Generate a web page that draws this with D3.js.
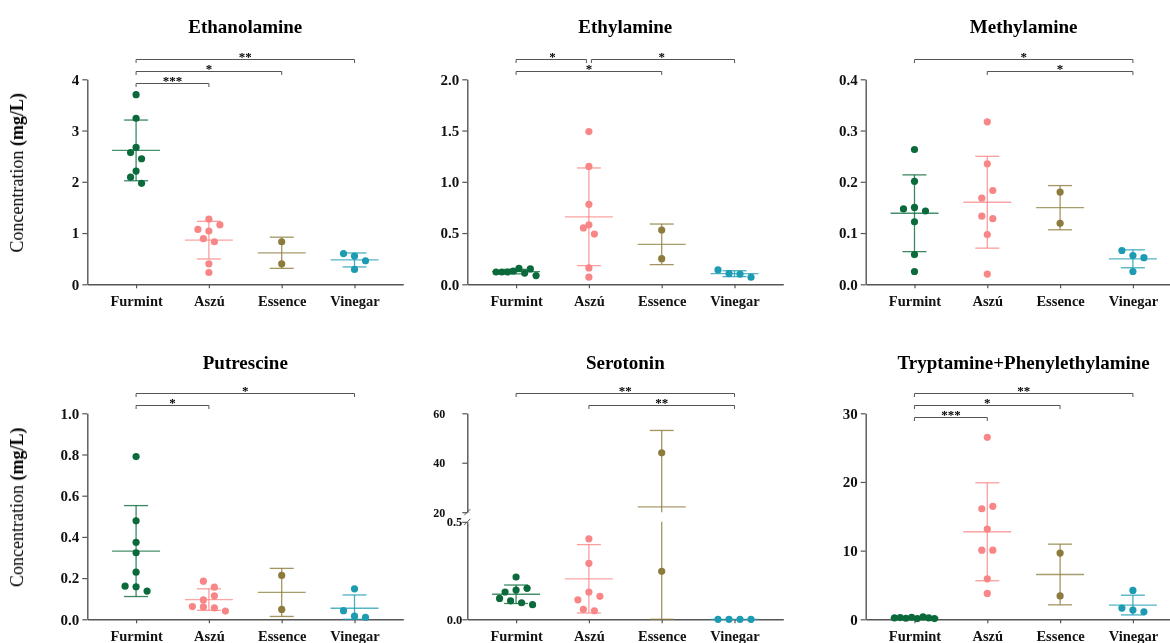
<!DOCTYPE html>
<html>
<head>
<meta charset="utf-8">
<script src="https://cdn.jsdelivr.net/npm/d3@7"></script>
<style>
  body { margin: 0; background: #fff; }
  svg { display: block; }
  text { font-family: "Liberation Serif", "Times New Roman", serif; }
  .mono { filter: url(#grey); }
</style>
</head>
<body>
<svg id="chart" width="1170" height="643">
  <defs>
    <filter id="grey" x="-20%" y="-50%" width="140%" height="200%">
      <feColorMatrix type="saturate" values="0"/>
    </filter>
  </defs>
</svg>
<script>
// ---- data (mg/L), one array per sample group, in category order ----
const categories = ["Furmint", "Aszú", "Essence", "Vinegar"];
const groupColors = ["#0b6a3c", "#f98686", "#8c7b3c", "#1d9bb3"];

const ethanolamine = [
  [3.70, 3.24, 2.67, 2.57, 2.45, 2.21, 2.09, 1.97],
  [1.27, 1.07, 1.04, 1.16, 0.89, 0.83, 0.40, 0.23],
  [0.83, 0.40],
  [0.60, 0.55, 0.46, 0.29]
];
const ethylamine = [
  [0.12, 0.12, 0.12, 0.13, 0.155, 0.11, 0.15, 0.085],
  [1.49, 1.15, 0.78, 0.58, 0.55, 0.49, 0.16, 0.07],
  [0.53, 0.25],
  [0.14, 0.105, 0.10, 0.07]
];
const methylamine = [
  [0.263, 0.201, 0.147, 0.150, 0.143, 0.122, 0.058, 0.025],
  [0.317, 0.235, 0.168, 0.183, 0.133, 0.128, 0.097, 0.020],
  [0.180, 0.119],
  [0.066, 0.056, 0.052, 0.025]
];
const putrescine = [
  [0.79, 0.478, 0.374, 0.323, 0.229, 0.161, 0.158, 0.137],
  [0.185, 0.156, 0.094, 0.114, 0.062, 0.060, 0.055, 0.040],
  [0.213, 0.048],
  [0.148, 0.042, 0.015, 0.010]
];
const serotonin = [
  [0.217, 0.140, 0.150, 0.159, 0.107, 0.095, 0.085, 0.075],
  [0.51, 0.413, 0.287, 0.100, 0.140, 0.118, 0.051, 0.044],
  [44.0, 0.246],
  [0, 0, 0, 0]
];
const tryptaminePhenylethylamine = [
  [0.2, 0.25, 0.15, 0.3, 0.1, 0.35, 0.2, 0.1],
  [26.5, 16.1, 16.45, 13.15, 10.06, 10.06, 5.9, 3.77],
  [9.65, 3.4],
  [4.2, 1.64, 1.35, 1.1]
];

// y-axis tick values
const ethanolamineTicks = [0, 1, 2, 3, 4];
const ethylamineTicks = [0, 0.5, 1.0, 1.5, 2.0];
const methylamineTicks = [0, 0.1, 0.2, 0.3, 0.4];
const putrescineTicks = [0, 0.2, 0.4, 0.6, 0.8, 1.0];
const serotoninLowTicks = [0, 0.5];
const serotoninHighTicks = [20, 40, 60];
const tryptamineTicks = [0, 10, 20, 30];

// pairwise significance: [group A, group B, label, bracket level]
const ethanolamineSig = [["Furmint", "Vinegar", "**", 0], ["Furmint", "Essence", "*", 1], ["Furmint", "Aszú", "***", 2]];
const ethylamineSig = [["Furmint", "Aszú", "*", 0], ["Aszú", "Vinegar", "*", 0], ["Furmint", "Essence", "*", 1]];
const methylamineSig = [["Furmint", "Vinegar", "*", 0], ["Aszú", "Vinegar", "*", 1]];
const putrescineSig = [["Furmint", "Vinegar", "*", 0], ["Furmint", "Aszú", "*", 1]];
const serotoninSig = [["Furmint", "Vinegar", "**", 0], ["Aszú", "Vinegar", "**", 1]];
const tryptamineSig = [["Furmint", "Vinegar", "**", 0], ["Furmint", "Essence", "*", 1], ["Furmint", "Aszú", "***", 2]];

// ---- layout ----
const svg = d3.select("#chart");
const colX = [87.3, 467.3, 865.7];
const rowTop = [79.3, 413.3];
const rowBottom = [284.3, 619.3];
const titleY = [33, 369];
const axisLen = 316;
const dotR = 3.6;
const axisColor = "#555";
const serif = "'Liberation Serif', 'Times New Roman', serif";

const f1 = d3.format(".1f");
const f0 = d3.format("d");

const panels = [
  { title: "Ethanolamine", data: ethanolamine, sig: ethanolamineSig, col: 0, row: 0, ylabel: true,
    segments: [{ domain: [0, 4], ticks: ethanolamineTicks, fmt: f0 }] },
  { title: "Ethylamine", data: ethylamine, sig: ethylamineSig, col: 1, row: 0,
    segments: [{ domain: [0, 2], ticks: ethylamineTicks, fmt: f1 }] },
  { title: "Methylamine", data: methylamine, sig: methylamineSig, col: 2, row: 0,
    segments: [{ domain: [0, 0.4], ticks: methylamineTicks, fmt: f1 }] },
  { title: "Putrescine", data: putrescine, sig: putrescineSig, col: 0, row: 1, ylabel: true,
    segments: [{ domain: [0, 1], ticks: putrescineTicks, fmt: f1 }] },
  { title: "Serotonin", data: serotonin, sig: serotoninSig, col: 1, row: 1, broken: true,
    segments: [
      { domain: [0, 0.5], ticks: serotoninLowTicks, fmt: f1, frac: [0, 0.473], pad: 0, size: 12.5 },
      { domain: [20, 60], ticks: serotoninHighTicks, fmt: f0, frac: [0.52, 1], pad: 17, size: 12 }
    ] },
  { title: "Tryptamine+Phenylethylamine", data: tryptaminePhenylethylamine, sig: tryptamineSig, col: 2, row: 1,
    segments: [{ domain: [0, 30], ticks: tryptamineTicks, fmt: f0 }] }
];

// Prism-style scatter: points whose heights are within one dot
// diameter share a row and are spread symmetrically around the centre.
function swarm(values, yPos) {
  const pts = values.map((v, i) => ({ v, i, py: yPos(v) })).filter(d => d.py != null);
  const sorted = pts.slice().sort((a, b) => b.py - a.py);
  const rows = [];
  let cur = null;
  sorted.forEach(d => {
    if (!cur || cur[0].py - d.py >= 8) { cur = [d]; rows.push(cur); }
    else cur.push(d);
  });
  rows.forEach(row => {
    row.sort((a, b) => a.i - b.i);
    const n = row.length;
    const step = n > 1 ? Math.min(11, 40 / (n - 1)) : 0;
    row.forEach((d, k) => { d.dx = (k - (n - 1) / 2) * step; });
  });
  return pts;
}

panels.forEach(p => {
  const g = svg.append("g");
  const x0 = colX[p.col];
  const top = rowTop[p.row];
  const bottom = rowBottom[p.row];
  const h = bottom - top;

  const x = d3.scalePoint().domain(categories).range([x0, x0 + axisLen]).padding(0.67);

  // one linear scale per axis segment (two for the broken axis)
  p.segments.forEach(s => {
    const fr = s.frac || [0, 1];
    s.scale = d3.scaleLinear().domain(s.domain).range([bottom - fr[0] * h, bottom - fr[1] * h]);
  });
  const yPos = v => {
    for (const s of p.segments) {
      if (v >= s.domain[0] - 1e-9 && v <= s.domain[1] + 1e-9) return s.scale(v);
    }
    return null;
  };

  // title
  g.append("text")
    .attr("class", "mono")
    .attr("x", x0 + axisLen / 2).attr("y", titleY[p.row])
    .attr("text-anchor", "middle")
    .attr("font-size", 19).attr("font-weight", "bold").attr("fill", "#000")
    .text(p.title);

  // y axis title
  if (p.ylabel) {
    const t = g.append("text")
      .attr("class", "mono")
      .attr("transform", `translate(23,${(top + bottom) / 2 - 9}) rotate(-90)`)
      .attr("text-anchor", "middle")
      .attr("font-size", 18).attr("fill", "#000");
    t.append("tspan").text("Concentration ");
    t.append("tspan").attr("font-weight", "bold").text("(mg/L)");
  }

  // y axis (segments)
  p.segments.forEach(s => {
    const ax = g.append("g")
      .attr("transform", `translate(${x0},0)`)
      .call(d3.axisLeft(s.scale).tickValues(s.ticks).tickFormat(s.fmt)
        .tickSize(5).tickSizeOuter(0).tickPadding(s.pad != null ? s.pad : 3));
    ax.select(".domain").attr("stroke", axisColor).attr("stroke-width", 1.4);
    ax.selectAll(".tick line").attr("stroke", axisColor).attr("stroke-width", 1.2);
    ax.selectAll(".tick text")
      .attr("class", "mono")
      .style("font-family", serif)
      .attr("font-size", s.size || 15).attr("font-weight", "bold").attr("fill", "#111");
  });

  // axis break marks
  if (p.broken) {
    const [lo, hi] = p.segments;
    [lo.scale(lo.domain[1]), hi.scale(hi.domain[0])].forEach(yy => {
      g.append("line")
        .attr("x1", x0 - 3).attr("y1", yy + 3).attr("x2", x0 + 3).attr("y2", yy - 3)
        .attr("stroke", axisColor).attr("stroke-width", 1);
    });
  }

  // x axis
  const xa = g.append("g")
    .attr("transform", `translate(0,${bottom})`)
    .call(d3.axisBottom(x).tickSize(4).tickSizeOuter(0).tickPadding(7));
  xa.select(".domain").attr("stroke", axisColor).attr("stroke-width", 1.6);
  xa.selectAll(".tick line").attr("stroke", axisColor).attr("stroke-width", 1.2);
  xa.selectAll(".tick text")
    .attr("class", "mono")
    .style("font-family", serif)
    .attr("font-size", 14.5).attr("font-weight", "bold").attr("fill", "#111");

  // mean and SD for each group
  categories.forEach((c, gi) => {
    const vals = p.data[gi];
    const col = groupColors[gi];
    const cx = x(c);
    const m = d3.mean(vals);
    const sd = vals.length > 1 ? d3.deviation(vals) : 0;
    const lo = Math.max(0, m - sd), hi = m + sd;

    if (sd > 0) {
      // vertical bar, drawn per axis segment
      p.segments.forEach(s => {
        const a = Math.max(lo, s.domain[0]), b = Math.min(hi, s.domain[1]);
        if (a < b) {
          g.append("line")
            .attr("x1", cx).attr("x2", cx)
            .attr("y1", s.scale(a)).attr("y2", s.scale(b))
            .attr("stroke", col).attr("stroke-width", 1.3).attr("opacity", 0.8);
        }
      });
      [lo, hi].forEach(v => {
        const yy = yPos(v);
        if (yy != null) {
          g.append("line")
            .attr("x1", cx - 12).attr("x2", cx + 12)
            .attr("y1", yy).attr("y2", yy)
            .attr("stroke", col).attr("stroke-width", 1.3).attr("opacity", 0.8);
        }
      });
    }
    const ym = yPos(m);
    if (ym != null) {
      g.append("line")
        .attr("x1", cx - 24).attr("x2", cx + 24)
        .attr("y1", ym).attr("y2", ym)
        .attr("stroke", col).attr("stroke-width", 1.3).attr("opacity", 0.75);
    }

    // points
    g.selectAll(null)
      .data(swarm(vals, yPos))
      .join("circle")
      .attr("cx", d => cx + d.dx)
      .attr("cy", d => d.py)
      .attr("r", dotR)
      .attr("fill", col);
  });

  // significance brackets
  const levelY = lvl => Math.round(top - 20 + lvl * 12) + 0.5;
  p.sig.forEach(([a, b, label, lvl]) => {
    let xa1 = x(a), xb1 = x(b);
    // leave a small gap where two brackets on one level meet
    p.sig.forEach(o => {
      if (o[3] !== lvl || (o[0] === a && o[1] === b)) return;
      if (o[1] === a) xa1 += 2.5;
      if (o[0] === b) xb1 -= 2.5;
    });
    const yy = levelY(lvl);
    g.append("path")
      .attr("d", `M${xa1},${yy + 3.5}V${yy}H${xb1}V${yy + 3.5}`)
      .attr("fill", "none").attr("stroke", "#555").attr("stroke-width", 1);
    g.append("text")
      .attr("class", "mono")
      .attr("x", (x(a) + x(b)) / 2).attr("y", yy + 1)
      .attr("text-anchor", "middle")
      .attr("font-size", 13).attr("font-weight", "bold").attr("fill", "#000")
      .text(label);
  });
});
</script>
</body>
</html>
